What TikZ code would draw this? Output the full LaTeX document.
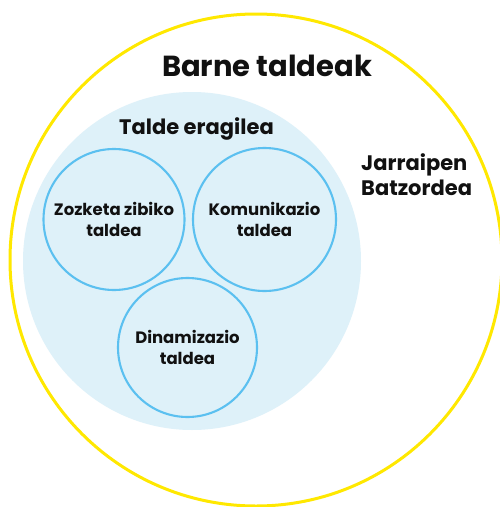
\documentclass[tikz,border=0pt]{standalone}
\usepackage{fontspec}
\setmainfont{Poppins}
\definecolor{ylw}{HTML}{FFE800}
\definecolor{paleblue}{HTML}{DEF1F9}
\definecolor{ringblue}{HTML}{5BC0F0}
\definecolor{ink}{HTML}{111111}
\tikzset{
  group/.style={circle, draw=ringblue, line width=2.1pt, fill=paleblue, inner sep=0pt, align=center, text=ink, font=\fontsize{16.5}{20.5}\selectfont\bfseries},
  heading/.style={text=ink, inner sep=0pt, font=\bfseries}
}
\begin{document}
\begin{tikzpicture}[x=1pt, y=-1pt]
\useasboundingbox (0,0) rectangle (500,507);
\clip (0,0) rectangle (500,507);
\fill[white] (0,0) rectangle (500,507);
\node[circle, draw=ylw, line width=3pt, minimum size=492pt, inner sep=0pt] (outer) at (256,260) {};
\node[circle, fill=paleblue, minimum size=338pt, inner sep=0pt] (inner) at (192,261) {};
\node[group, minimum size=141pt] (zoz) at (114,219.5) {Zozketa zibiko\\taldea};
\node[group, minimum size=143pt] (kom) at (264.5,219.5) {Komunikazio\\taldea};
\node[group, minimum size=139pt] (din) at (187.5,347.5) {Dinamizazio\\taldea};
\node[heading, font=\fontsize{29}{36}\selectfont\bfseries, anchor=base] (barne) at (267,76) {Barne taldeak};
\node[heading, font=\fontsize{21}{25}\selectfont\bfseries, anchor=base] (talde) at (196.5,134) {Talde eragilea};
\node[heading, font=\fontsize{21}{25}\selectfont\bfseries, align=left, anchor=north west] (jarr) at (361,153) {Jarraipen\\Batzordea};
\end{tikzpicture}
\end{document}
